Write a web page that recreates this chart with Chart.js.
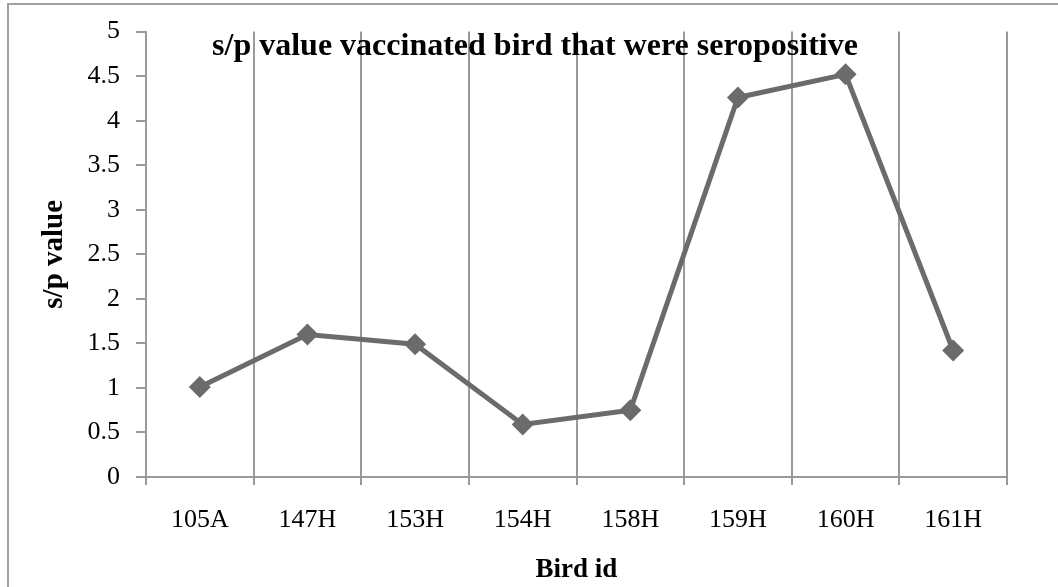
<!DOCTYPE html>
<html>
<head>
<meta charset="utf-8">
<script src="https://cdn.jsdelivr.net/npm/chart.js@4/dist/chart.umd.min.js"></script>
<style>
  html, body { margin: 0; padding: 0; background: #fff; }
  #wrap { width: 1058px; height: 587px; position: relative; }
</style>
</head>
<body>
<div id="wrap"><canvas id="spChart"></canvas></div>
<script>
// data
const birdIds = ['105A', '147H', '153H', '154H', '158H', '159H', '160H', '161H'];
const spValues = [1.01, 1.60, 1.49, 0.59, 0.75, 4.26, 4.52, 1.42];
const chartTitle = 's/p value vaccinated bird that were seropositive';
const xTitle = 'Bird id';
const yTitle = 's/p value';

const serif = '"Liberation Serif", "DejaVu Serif", serif';
const gridGray = '#9a9a9a';
const lineGray = '#6b6b6b';

// frame around the chart (cut off at right/bottom like the source)
const framePlugin = {
    id: 'frame',
    beforeDraw(chart) {
        const ctx = chart.ctx;
        ctx.save();
        ctx.fillStyle = '#fff';
        ctx.fillRect(0, 0, chart.width, chart.height);
        ctx.strokeStyle = '#a0a0a0';
        ctx.lineWidth = 2;
        ctx.strokeRect(8, 4, chart.width + 40, chart.height + 40);
        ctx.restore();
    }
};

// title sits inside the plot area
const innerTitlePlugin = {
    id: 'innerTitle',
    afterDatasetsDraw(chart) {
        const ctx = chart.ctx;
        ctx.save();
        ctx.font = 'bold 32px ' + serif;
        ctx.fillStyle = '#000';
        ctx.textAlign = 'center';
        ctx.textBaseline = 'alphabetic';
        ctx.fillText(chartTitle, 535, 55);
        ctx.restore();
    }
};

new Chart(document.getElementById('spChart'), {
    type: 'line',
    data: {
        labels: birdIds,
        datasets: [{
            label: yTitle,
            data: spValues,
            borderColor: lineGray,
            backgroundColor: lineGray,
            borderWidth: 5,
            pointStyle: 'rectRot',
            pointRadius: 11,
            pointBorderWidth: 0,
            tension: 0
        }]
    },
    plugins: [framePlugin, innerTitlePlugin],
    options: {
        responsive: true,
        maintainAspectRatio: false,
        animation: false,
        layout: { padding: { top: 23, right: 51, bottom: 0, left: 0 } },
        plugins: {
            legend: { display: false },
            title: { display: false },
            tooltip: { enabled: false }
        },
        scales: {
            x: {
                offset: true,
                grid: {
                    offset: true,
                    color: gridGray,
                    lineWidth: 2,
                    tickLength: 8
                },
                border: { color: gridGray, width: 2 },
                ticks: {
                    color: '#000',
                    padding: 20,
                    maxRotation: 0,
                    font: { family: serif, size: 26 }
                },
                title: {
                    display: true,
                    text: xTitle,
                    color: '#000',
                    padding: { top: 4, bottom: 1 },
                    font: { family: serif, size: 27, weight: 'bold' }
                },
                afterFit(scale) { scale.height = 110; }
            },
            y: {
                min: 0,
                max: 5,
                ticks: {
                    stepSize: 0.5,
                    color: '#000',
                    padding: 16,
                    font: { family: serif, size: 26 },
                    callback: value => value.toString()
                },
                grid: {
                    drawOnChartArea: false,
                    color: gridGray,
                    lineWidth: 2,
                    tickLength: 10
                },
                border: { color: gridGray, width: 2 },
                title: {
                    display: true,
                    text: yTitle,
                    color: '#000',
                    padding: { top: 37, bottom: 0 },
                    font: { family: serif, size: 29, weight: 'bold' }
                },
                afterFit(scale) { scale.width = 146; }
            }
        }
    }
});
</script>
</body>
</html>
